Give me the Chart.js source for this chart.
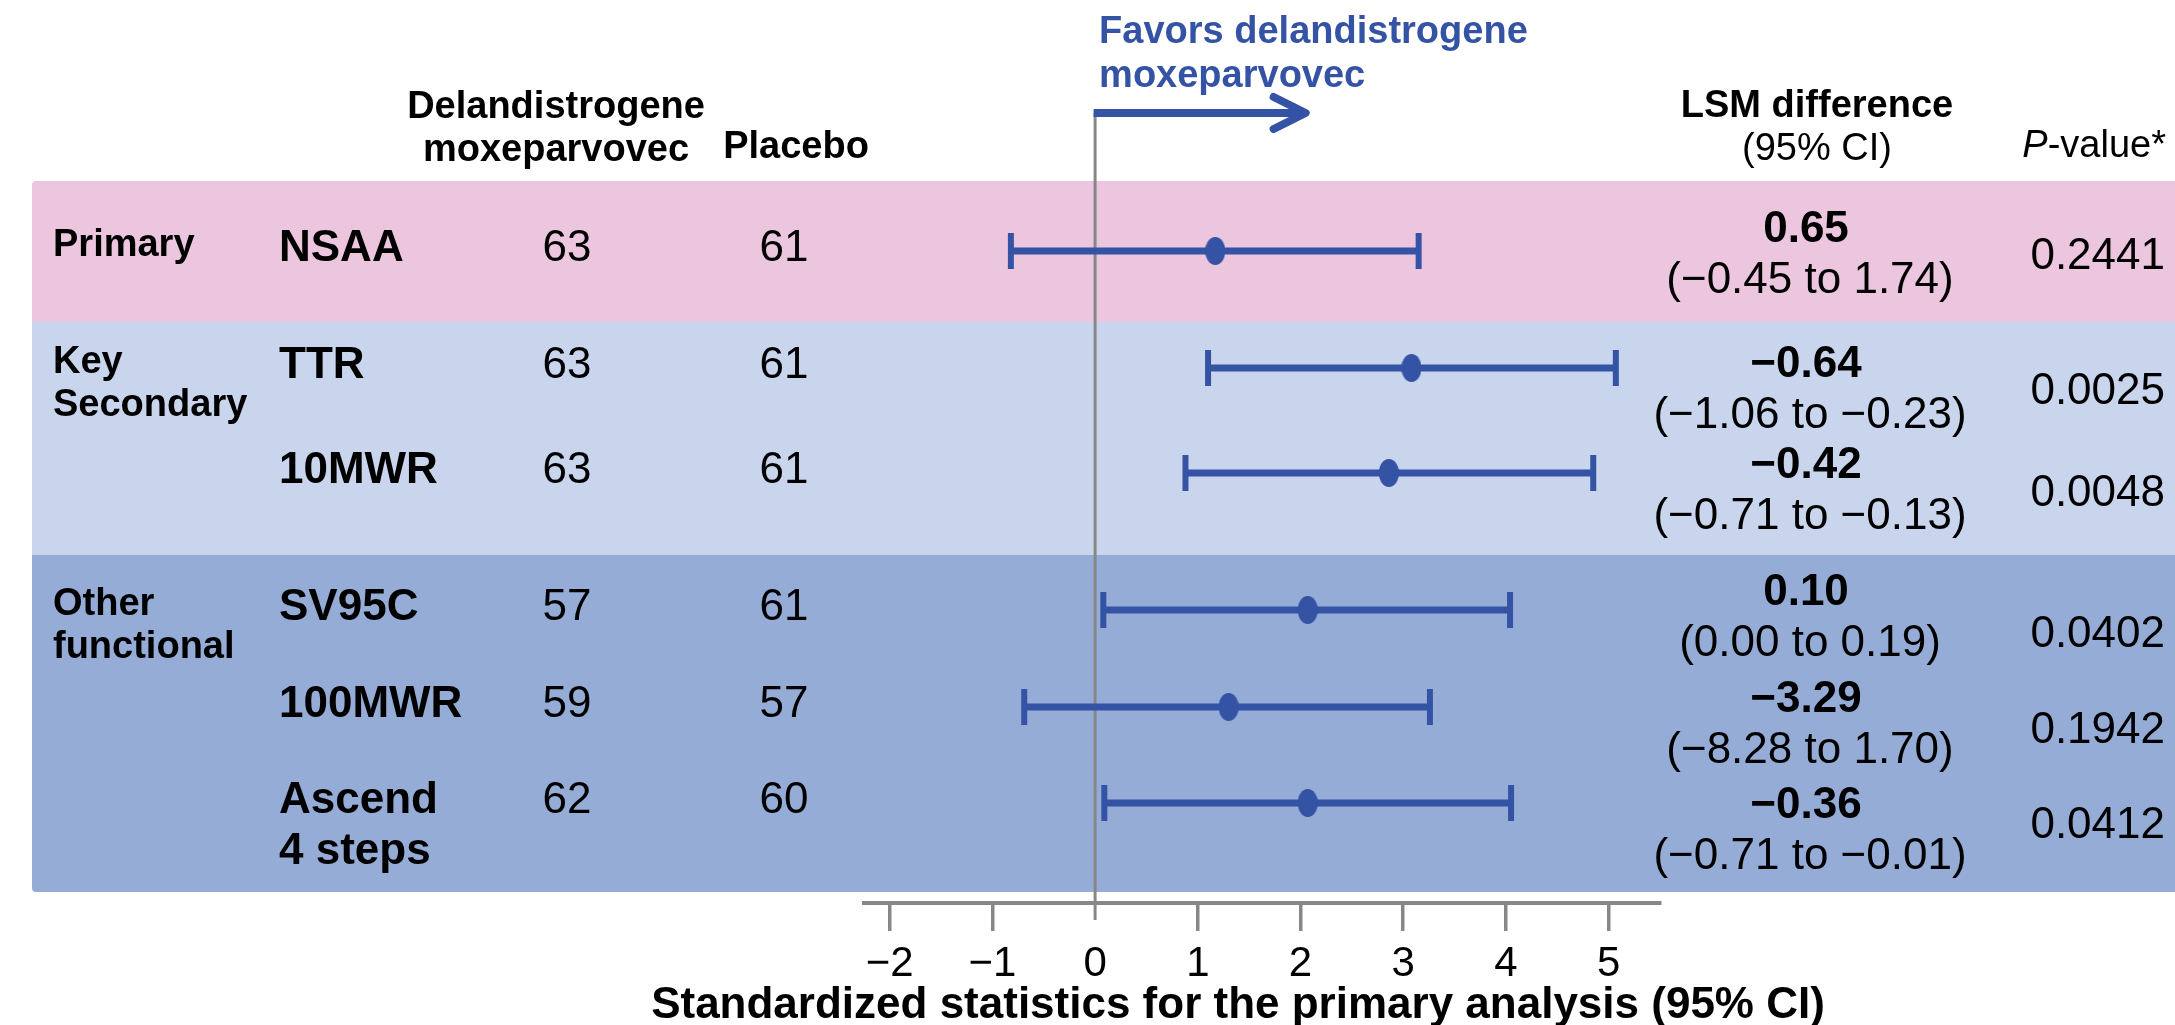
<!DOCTYPE html>
<html>
<head>
<meta charset="utf-8">
<title>Forest plot – standardized statistics</title>
<script src="https://cdn.jsdelivr.net/npm/chart.js@4/dist/chart.umd.min.js"></script>
<style>
  html, body { margin: 0; padding: 0; background: #ffffff; }
  canvas { display: block; }
</style>
</head>
<body>
<canvas id="forest" width="2175" height="1025"></canvas>
<script>
// ---- data ----
const groups = ['Primary', 'Key\nSecondary', 'Other\nfunctional'];
const outcomes = ['NSAA', 'TTR', '10MWR', 'SV95C', '100MWR', 'Ascend\n4 steps'];
const outcomeGroup = [0, 1, 1, 2, 2, 2];
const nTreated = [63, 63, 63, 57, 59, 62];
const nPlacebo = [61, 61, 61, 61, 57, 60];
// standardized statistic for the primary analysis, with its 95% CI
const zEstimate = [1.17, 3.08, 2.86, 2.07, 1.30, 2.07];
const zLower = [-0.82, 1.10, 0.88, 0.08, -0.69, 0.09];
const zUpper = [3.15, 5.07, 4.85, 4.04, 3.26, 4.05];
// LSM difference (95% CI) and P-value
const lsmDiff = [0.65, -0.64, -0.42, 0.10, -3.29, -0.36];
const lsmLower = [-0.45, -1.06, -0.71, 0.00, -8.28, -0.71];
const lsmUpper = [1.74, -0.23, -0.13, 0.19, 1.70, -0.01];
const pValue = [0.2441, 0.0025, 0.0048, 0.0402, 0.1942, 0.0412];
const xTicks = [-2, -1, 0, 1, 2, 3, 4, 5];

// ---- layout (row slots on the hidden y axis) ----
const rowPos = [1.38, 2.55, 3.60, 4.97, 5.94, 6.90];
const lsmPos = [1.29, 2.64, 3.65, 4.92, 5.99, 7.05];
const pPos = [1.56, 2.91, 3.93, 5.34, 6.30, 7.25];
const bandEdges = [0.68, 2.09, 4.42, 7.79];
const bandColors = ['#ecc6de', '#c9d5ec', '#95acd7'];

const FONT = '"Liberation Sans", Arial, Helvetica, sans-serif';
const BLUE = '#3553a5';
const GRAY = '#878787';
const COL = { group: 53, outcome: 279, treated: 567, placebo: 784, lsm: 1806, lsmHead: 1817, p: 2165, bandLeft: 32 };

const fmt2 = v => v.toFixed(2).replace('-', '\u2212');

function ellipseMarker(w, h, color) {
  const c = document.createElement('canvas');
  c.width = w; c.height = h;
  const g = c.getContext('2d');
  g.fillStyle = color;
  g.beginPath();
  g.ellipse(w / 2, h / 2, w / 2, h / 2, 0, 0, Math.PI * 2);
  g.fill();
  return c;
}

function text(ctx, str, x, y, font, align, color) {
  ctx.font = font;
  ctx.textAlign = align || 'left';
  ctx.textBaseline = 'alphabetic';
  ctx.fillStyle = color || '#000';
  ctx.fillText(str, x, y);
}

const forestDecor = {
  id: 'forestDecor',
  beforeDraw(chart) {
    const { ctx } = chart;
    const y = chart.scales.y;
    ctx.save();
    bandColors.forEach((c, i) => {
      const top = y.getPixelForValue(bandEdges[i]);
      const bot = y.getPixelForValue(bandEdges[i + 1]);
      ctx.fillStyle = c;
      ctx.beginPath();
      const r = [i === 0 ? 4 : 0, 0, 0, i === bandColors.length - 1 ? 4 : 0];
      ctx.roundRect(COL.bandLeft, top, chart.width - COL.bandLeft, bot - top, r);
      ctx.fill();
    });
    ctx.restore();
  },
  beforeDatasetsDraw(chart) {
    const { ctx, chartArea } = chart;
    const x = chart.scales.x;
    const x0 = x.getPixelForValue(0);
    const tip = x.getPixelForValue(2.05);
    const top = chartArea.top;
    ctx.save();
    // line of no effect
    ctx.strokeStyle = GRAY;
    ctx.lineWidth = 3;
    ctx.beginPath();
    ctx.moveTo(x0, top);
    ctx.lineTo(x0, chartArea.bottom + 17);
    ctx.stroke();
    // direction arrow
    ctx.strokeStyle = BLUE;
    ctx.lineWidth = 8;
    ctx.lineCap = 'butt';
    ctx.beginPath();
    ctx.moveTo(x0 - 1.5, top);
    ctx.lineTo(tip - 3, top);
    ctx.stroke();
    ctx.lineCap = 'round';
    ctx.lineJoin = 'round';
    ctx.beginPath();
    ctx.moveTo(tip - 32, top - 16);
    ctx.lineTo(tip, top);
    ctx.lineTo(tip - 32, top + 16);
    ctx.stroke();
    const fav = 'bold 38px ' + FONT;
    text(ctx, 'Favors delandistrogene', x0 + 4, 43, fav, 'left', BLUE);
    text(ctx, 'moxeparvovec', x0 + 4, 87, fav, 'left', BLUE);
    ctx.restore();
  },
  afterDraw(chart) {
    const { ctx } = chart;
    const y = chart.scales.y;
    const head = 'bold 38px ' + FONT;
    const headReg = '38px ' + FONT;
    const rowBold = 'bold 44px ' + FONT;
    const rowReg = '44px ' + FONT;
    ctx.save();
    // column headers
    text(ctx, 'Delandistrogene', 556, 118, head, 'center');
    text(ctx, 'moxeparvovec', 556, 161, head, 'center');
    text(ctx, 'Placebo', 796, 158, head, 'center');
    text(ctx, 'LSM difference', COL.lsmHead, 117, head, 'center');
    text(ctx, '(95% CI)', COL.lsmHead, 160, headReg, 'center');
    ctx.font = headReg;
    const restW = ctx.measureText('-value*').width;
    text(ctx, '-value*', COL.p + 1, 157, headReg, 'right');
    text(ctx, 'P', COL.p + 1 - restW, 157, 'italic 38px ' + FONT, 'right');

    // group labels, outcome rows, counts and statistics
    const seen = new Set();
    outcomes.forEach((name, i) => {
      const base = y.getPixelForValue(rowPos[i]) + 10;
      const g = outcomeGroup[i];
      if (!seen.has(g)) {
        seen.add(g);
        groups[g].split('\n').forEach((line, k) => text(ctx, line, COL.group, base - 5 + k * 43, head, 'left'));
      }
      name.split('\n').forEach((line, k) => text(ctx, line, COL.outcome, base + k * 51, rowBold, 'left'));
      text(ctx, String(nTreated[i]), COL.treated, base, rowReg, 'center');
      text(ctx, String(nPlacebo[i]), COL.placebo, base, rowReg, 'center');
      const lb = y.getPixelForValue(lsmPos[i]);
      text(ctx, fmt2(lsmDiff[i]), COL.lsm, lb, rowBold, 'center');
      text(ctx, '(' + fmt2(lsmLower[i]) + ' to ' + fmt2(lsmUpper[i]) + ')', COL.lsm + 4, lb + 51, rowReg, 'center');
      text(ctx, pValue[i].toFixed(4), COL.p, y.getPixelForValue(pPos[i]), rowReg, 'right');
    });

    // axis title
    text(ctx, 'Standardized statistics for the primary analysis (95% CI)', 1238, 1018, 'bold 44px ' + FONT, 'center');
    ctx.restore();
  }
};

const marker = ellipseMarker(20, 28, BLUE);

const datasets = [
  {
    label: 'Standardized statistic',
    data: outcomes.map((_, i) => ({ x: zEstimate[i], y: rowPos[i] })),
    pointStyle: marker,
    pointRadius: 10,
    order: 0
  },
  ...outcomes.map((name, i) => ({
    label: name + ' 95% CI',
    showLine: true,
    data: [{ x: zLower[i], y: rowPos[i] }, { x: zUpper[i], y: rowPos[i] }],
    borderColor: BLUE,
    borderWidth: 7,
    borderCapStyle: 'butt',
    pointStyle: 'line',
    pointRotation: 90,
    pointRadius: 18,
    pointBorderWidth: 6,
    pointBorderColor: BLUE,
    pointBackgroundColor: BLUE,
    order: 1
  }))
];

new Chart(document.getElementById('forest'), {
  type: 'scatter',
  data: { datasets },
  plugins: [forestDecor],
  options: {
    responsive: false,
    animation: false,
    devicePixelRatio: 1,
    layout: { padding: { left: 864, right: 515, top: 113, bottom: 0 } },
    plugins: { legend: { display: false }, tooltip: { enabled: false } },
    scales: {
      x: {
        type: 'linear',
        min: -2.25,
        max: 5.5,
        position: 'bottom',
        afterBuildTicks: s => { s.ticks = xTicks.map(v => ({ value: v })); },
        afterFit: s => { s.height = 122; },
        grid: {
          drawOnChartArea: false,
          drawTicks: true,
          tickLength: 28,
          lineWidth: 3.5,
          color: GRAY,
          tickColor: c => (c.tick && c.tick.value === 0 ? 'rgba(0,0,0,0)' : GRAY)
        },
        border: { display: true, color: GRAY, width: 4 },
        ticks: {
          color: '#000',
          font: { family: FONT, size: 42 },
          padding: 8,
          maxRotation: 0,
          autoSkip: false,
          callback: v => String(v).replace('-', '\u2212')
        }
      },
      y: { type: 'linear', min: 0, max: 7.9, reverse: true, display: false }
    }
  }
});
</script>
</body>
</html>
